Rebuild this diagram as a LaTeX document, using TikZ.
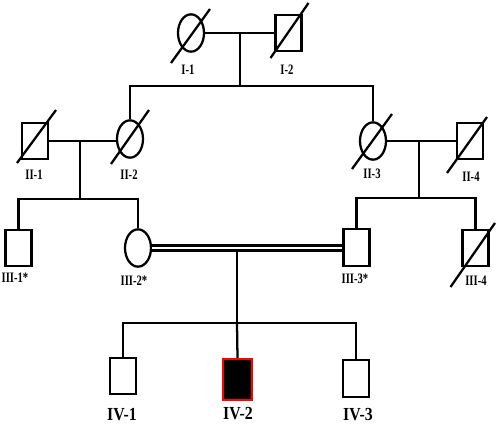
\documentclass[tikz,border=0pt]{standalone}
\usepackage{fontspec}
\setmainfont{Liberation Serif}
\usetikzlibrary{shapes.geometric}
\newcommand{\deadmark}[5]{\draw[pline] ([shift={(#2,#3)}]#1.center) -- ([shift={(#4,#5)}]#1.center);}
\begin{document}
\begin{tikzpicture}[x=0.75pt,y=-0.75pt,
  pline/.style={line width=1.7pt},
  male/.style={draw,line width=1.7pt,rectangle,inner sep=0pt,minimum width=19.5pt,minimum height=27.5pt},
  female/.style={draw,line width=1.7pt,ellipse,inner sep=0pt,minimum width=19.5pt,minimum height=28pt},
  lab/.style={inner sep=0pt,font=\fontsize{10.8}{10.8}\selectfont\bfseries},
  biglab/.style={inner sep=0pt,font=\fontsize{13.8}{13.8}\selectfont\bfseries}]
\useasboundingbox (0,0) rectangle (500,425);
\fill[white] (0,0) rectangle (500,425);
% Generation I
\node[female] (I1) at (191,33) {};
\node[male] (I2) at (288.5,33) {};
\deadmark{I1}{-20}{30}{19}{-24}
\deadmark{I2}{-18}{25}{20}{-30}
\node[lab] (lI1) at (188,70) {\scalebox{0.74}[1]{I-1}};
\node[lab] (lI2) at (287,70) {\scalebox{0.74}[1]{I-2}};
% Generation II
\node[male] (II1) at (35,141) {};
\node[female] (II2) at (130,139) {};
\node[female] (II3) at (373,141) {};
\node[male] (II4) at (470,141) {};
\deadmark{II1}{-18}{22}{21}{-31}
\deadmark{II2}{-19}{25}{19}{-29}
\deadmark{II3}{-21}{28}{19}{-27}
\deadmark{II4}{-23}{32}{17}{-24}
\node[lab] (lII1) at (34,175) {\scalebox{0.74}[1]{II-1}};
\node[lab] (lII2) at (129,175) {\scalebox{0.74}[1]{II-2}};
\node[lab] (lII3) at (372,174) {\scalebox{0.74}[1]{II-3}};
\node[lab] (lII4) at (471,177) {\scalebox{0.74}[1]{II-4}};
% Generation III
\node[male] (III1) at (18.5,248) {};
\node[female] (III2) at (138,248) {};
\node[male] (III3) at (356.5,247.5) {};
\node[male] (III4) at (475.5,248) {};
\deadmark{III4}{-25}{39}{19.5}{-25}
\node[lab] (lIII1) at (15,278) {\scalebox{0.74}[1]{III-1*}};
\node[lab] (lIII2) at (134,281) {\scalebox{0.74}[1]{III-2*}};
\node[lab] (lIII3) at (355,279) {\scalebox{0.74}[1]{III-3*}};
\node[lab] (lIII4) at (476,281) {\scalebox{0.74}[1]{III-4}};
% Generation IV
\node[male] (IV1) at (123,376) {};
\node[male,draw=red,fill=black,minimum width=21.75pt,minimum height=30.75pt] (IV2) at (237.5,379.5) {};
\node[male] (IV3) at (356,378.5) {};
\node[biglab] (lIV1) at (122,415) {\scalebox{0.86}[1]{IV-1}};
\node[biglab] (lIV2) at (238,414) {\scalebox{0.86}[1]{IV-2}};
\node[biglab] (lIV3) at (358,415) {\scalebox{0.86}[1]{IV-3}};
% Connectors generation I
\coordinate (m1) at (240,33);
\coordinate (s1) at (240,86);
\draw[pline] (I1.east) -- (I2.west);
\draw[pline] (m1) -- (s1);
\draw[pline] (II2.north) -- (II2.north |- s1) -- (II3.north |- s1) -- (II3.north);
% Connectors generation II left
\coordinate (m2) at (80,141);
\coordinate (s2) at (80,199);
\draw[pline] (II1.east) -- (II1.east -| II2.west);
\draw[pline] (m2) -- (s2);
\draw[pline] (III1.north) -- (III1.north |- s2) -- (III2.north |- s2) -- (III2.north);
% Connectors generation II right
\coordinate (m3) at (419,141);
\coordinate (s3) at (419,198);
\draw[pline] (II3.east) -- (II4.west);
\draw[pline] (m3) -- (s3);
\draw[pline] (III3.north) -- (III3.north |- s3) -- (III4.north |- s3) -- (III4.north);
% Consanguineous marriage
\coordinate (m4) at (237,248);
\coordinate (s4) at (237,323);
\draw[line width=1.9pt,double,double distance=1.7pt] (III2.east) -- (III3.west |- III2.east);
\draw[pline] (m4) ++(0,3) -- (s4);
\draw[pline] (IV1.north) -- (IV1.north |- s4) -- (IV3.north |- s4) -- (IV3.north);
\draw[pline] (s4) -- (IV2.north);
\end{tikzpicture}
\end{document}
